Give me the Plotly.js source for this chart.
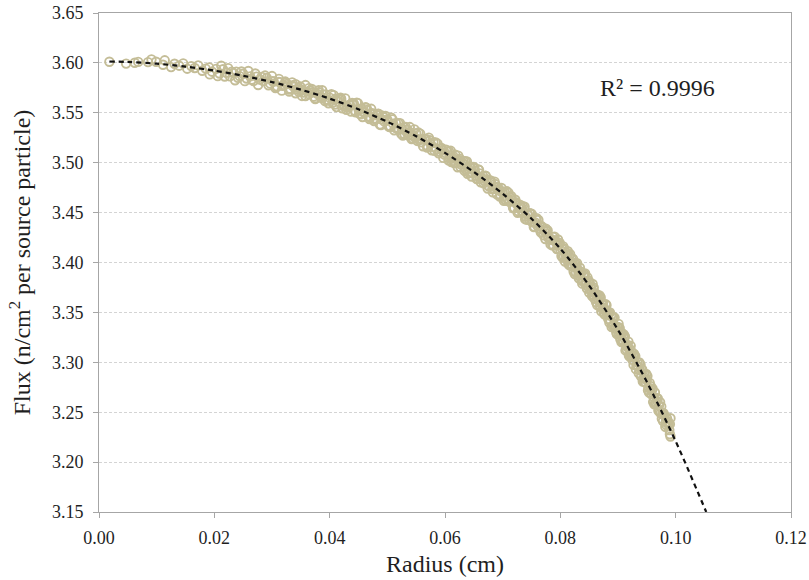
<!DOCTYPE html>
<html>
<head>
<meta charset="utf-8">
<script src="https://cdn.plot.ly/plotly-3.0.1.min.js"></script>
<style>
  html, body { margin: 0; padding: 0; background: #ffffff; }
  #chart { width: 809px; height: 580px; }
</style>
</head>
<body>
<div id="chart"></div>
<script>
// Tally results: flux per source particle against radial position
const radius = [
  0.0018, 0.0047, 0.0062, 0.0068, 0.0085, 0.0091, 0.0099, 0.0111, 0.0114, 0.0125,
  0.0131, 0.0139, 0.0146, 0.0153, 0.0160, 0.0166, 0.0172, 0.0179, 0.0185, 0.0191,
  0.0192, 0.0196,
  0.0203, 0.0209, 0.0215, 0.0221, 0.0227, 0.0233, 0.0238, 0.0244, 0.0250, 0.0256,
  0.0262, 0.0268, 0.0273, 0.0279, 0.0285, 0.0291, 0.0297, 0.0303, 0.0309, 0.0314,
  0.0320, 0.0326, 0.0332, 0.0338, 0.0343, 0.0349, 0.0355, 0.0361, 0.0366, 0.0372,
  0.0378, 0.0384, 0.0389, 0.0395, 0.0400,
  0.0405, 0.0410, 0.0415, 0.0420, 0.0425, 0.0430, 0.0435, 0.0440, 0.0445, 0.0450,
  0.0455, 0.0460, 0.0465, 0.0470, 0.0475, 0.0480, 0.0485, 0.0490, 0.0495, 0.0500,
  0.0505, 0.0510, 0.0515, 0.0520, 0.0525, 0.0530, 0.0535, 0.0540, 0.0545, 0.0550,
  0.0555, 0.0560, 0.0565, 0.0570, 0.0575, 0.0580, 0.0585, 0.0590, 0.0595, 0.0600,
  0.0604, 0.0608, 0.0612, 0.0616, 0.0620, 0.0624, 0.0628, 0.0632, 0.0636, 0.0640,
  0.0644, 0.0648, 0.0652, 0.0656, 0.0660, 0.0664, 0.0668, 0.0672, 0.0676, 0.0680,
  0.0684, 0.0688, 0.0692, 0.0696, 0.0700, 0.0704, 0.0708, 0.0712, 0.0716, 0.0720,
  0.0724, 0.0728, 0.0732, 0.0736, 0.0740, 0.0744, 0.0748, 0.0752, 0.0756, 0.0760,
  0.0764, 0.0768, 0.0772, 0.0776, 0.0780, 0.0784, 0.0788, 0.0792, 0.0796, 0.0796,
  0.0800,
  0.0803, 0.0806, 0.0809, 0.0812, 0.0815, 0.0818, 0.0821, 0.0824, 0.0827, 0.0830,
  0.0833, 0.0836, 0.0839, 0.0842, 0.0845, 0.0848, 0.0851, 0.0854, 0.0857, 0.0860,
  0.0863, 0.0866, 0.0869, 0.0872, 0.0875, 0.0878, 0.0881, 0.0884, 0.0887, 0.0890,
  0.0893, 0.0896, 0.0899, 0.0902, 0.0905, 0.0908, 0.0911, 0.0914, 0.0917, 0.0920,
  0.0923, 0.0926, 0.0929, 0.0932, 0.0935, 0.0938, 0.0941, 0.0944, 0.0947, 0.0950,
  0.0953, 0.0956, 0.0959, 0.0962, 0.0965, 0.0968, 0.0971, 0.0974, 0.0977, 0.0980,
  0.0983, 0.0986, 0.0989, 0.0990, 0.0991,
  // second pass of tallies
  0.0206, 0.0212, 0.0218, 0.0224, 0.0230, 0.0236, 0.0241, 0.0247, 0.0253, 0.0259,
  0.0265, 0.0271, 0.0276, 0.0282, 0.0288, 0.0294, 0.0300, 0.0306, 0.0312, 0.0317,
  0.0323, 0.0329, 0.0335, 0.0341, 0.0346, 0.0352, 0.0358, 0.0364, 0.0369, 0.0375,
  0.0381, 0.0387, 0.0392, 0.0398, 0.0403,
  0.0407, 0.0412, 0.0417, 0.0422, 0.0427, 0.0432, 0.0437, 0.0442, 0.0447, 0.0452,
  0.0457, 0.0462, 0.0467, 0.0472, 0.0477, 0.0482, 0.0487, 0.0492, 0.0497, 0.0502,
  0.0507, 0.0512, 0.0517, 0.0522, 0.0527, 0.0532, 0.0537, 0.0542, 0.0547, 0.0552,
  0.0557, 0.0562, 0.0567, 0.0572, 0.0577, 0.0582, 0.0587, 0.0592, 0.0597, 0.0602,
  0.0606, 0.0610, 0.0614, 0.0618, 0.0622, 0.0626, 0.0630, 0.0634, 0.0638, 0.0642,
  0.0646, 0.0650, 0.0654, 0.0658, 0.0662, 0.0666, 0.0670, 0.0674, 0.0678, 0.0682,
  0.0686, 0.0690, 0.0694, 0.0698, 0.0702, 0.0706, 0.0710, 0.0714, 0.0718, 0.0722,
  0.0726, 0.0730, 0.0734, 0.0738, 0.0742, 0.0746, 0.0750, 0.0754, 0.0758, 0.0762,
  0.0766, 0.0770, 0.0774, 0.0778, 0.0782, 0.0786, 0.0790, 0.0794, 0.0798, 0.0802,
  0.0805, 0.0808, 0.0811, 0.0814, 0.0817, 0.0820, 0.0823, 0.0826, 0.0829, 0.0832,
  0.0835, 0.0838, 0.0841, 0.0844, 0.0847, 0.0850, 0.0853, 0.0856, 0.0859, 0.0862,
  0.0865, 0.0868, 0.0871, 0.0874, 0.0877, 0.0880, 0.0883, 0.0886, 0.0889, 0.0892,
  0.0895, 0.0898, 0.0901, 0.0904, 0.0907, 0.0910, 0.0913, 0.0916, 0.0919, 0.0922,
  0.0925, 0.0928, 0.0931, 0.0934, 0.0937, 0.0940, 0.0943, 0.0946, 0.0949, 0.0952,
  0.0955, 0.0958, 0.0961, 0.0964, 0.0967, 0.0970, 0.0973, 0.0976, 0.0979, 0.0982,
  0.0985, 0.0988, 0.0991,
  // third pass of tallies
  0.0301, 0.0307, 0.0312, 0.0318, 0.0324, 0.0330, 0.0335, 0.0341, 0.0347, 0.0352,
  0.0358, 0.0364, 0.0370, 0.0375, 0.0381, 0.0387, 0.0393, 0.0398,
  0.0409, 0.0414, 0.0419, 0.0424, 0.0429, 0.0434, 0.0439, 0.0444, 0.0449, 0.0454,
  0.0459, 0.0464, 0.0469, 0.0474, 0.0479, 0.0484, 0.0489, 0.0494, 0.0499, 0.0504,
  0.0509, 0.0514, 0.0519, 0.0524, 0.0529, 0.0534, 0.0539, 0.0544, 0.0549, 0.0554,
  0.0559, 0.0564, 0.0569, 0.0574, 0.0579, 0.0584, 0.0589, 0.0594, 0.0599,
  0.0607, 0.0611, 0.0615, 0.0619, 0.0623, 0.0627, 0.0631, 0.0635, 0.0639, 0.0643,
  0.0647, 0.0651, 0.0655, 0.0659, 0.0663, 0.0667, 0.0671, 0.0675, 0.0679, 0.0683,
  0.0687, 0.0691, 0.0695, 0.0699, 0.0703, 0.0707, 0.0711, 0.0715, 0.0719, 0.0723,
  0.0727, 0.0731, 0.0735, 0.0739, 0.0743, 0.0747, 0.0751, 0.0755, 0.0759, 0.0763,
  0.0767, 0.0771, 0.0775, 0.0779, 0.0783, 0.0787, 0.0791, 0.0795, 0.0799,
  0.0804, 0.0807, 0.0810, 0.0813, 0.0816, 0.0819, 0.0822, 0.0825, 0.0828, 0.0831,
  0.0834, 0.0837, 0.0840, 0.0843, 0.0846, 0.0849, 0.0852, 0.0855, 0.0858, 0.0861,
  0.0864, 0.0867, 0.0870, 0.0873, 0.0876, 0.0879, 0.0882, 0.0885, 0.0888, 0.0891,
  0.0894, 0.0897, 0.0900, 0.0903, 0.0906, 0.0909, 0.0912, 0.0915, 0.0918, 0.0921,
  0.0924, 0.0927, 0.0930, 0.0933, 0.0936, 0.0939, 0.0942, 0.0945, 0.0948, 0.0951,
  0.0954, 0.0957, 0.0960, 0.0963, 0.0966, 0.0969, 0.0972, 0.0975, 0.0978, 0.0981,
  0.0984, 0.0987, 0.0990
];

const flux = [
  3.6012, 3.5993, 3.6001, 3.6010, 3.6008, 3.6035, 3.6012, 3.5982, 3.6026, 3.5958,
  3.5991, 3.5972, 3.5995, 3.5942, 3.5968, 3.5949, 3.5975, 3.5921, 3.5943, 3.5955,
  3.5885, 3.5912,
  3.5940, 3.5894, 3.5937, 3.5901, 3.5865, 3.5899, 3.5913, 3.5867, 3.5891, 3.5843,
  3.5865, 3.5818, 3.5862, 3.5834, 3.5817, 3.5849, 3.5792, 3.5813, 3.5764, 3.5807,
  3.5778, 3.5788, 3.5739, 3.5760, 3.5733, 3.5764, 3.5703, 3.5712, 3.5723, 3.5662,
  3.5692, 3.5661, 3.5682, 3.5631, 3.5652,
  3.5601, 3.5641, 3.5610, 3.5639, 3.5579, 3.5558, 3.5577, 3.5586, 3.5506, 3.5535,
  3.5543, 3.5500, 3.5528, 3.5455, 3.5483, 3.5440, 3.5488, 3.5435, 3.5413, 3.5430,
  3.5366, 3.5391, 3.5397, 3.5332, 3.5338, 3.5283, 3.5329, 3.5304, 3.5270, 3.5295,
  3.5228, 3.5232, 3.5235, 3.5168, 3.5191, 3.5205, 3.5138, 3.5111, 3.5125, 3.5098,
  3.5113, 3.5047, 3.5052, 3.4997, 3.5032, 3.5026, 3.4981, 3.5016, 3.4930, 3.4945,
  3.4950, 3.4895, 3.4908, 3.4841, 3.4893, 3.4846, 3.4819, 3.4831, 3.4764, 3.4816,
  3.4739, 3.4751, 3.4724, 3.4676, 3.4709, 3.4699, 3.4639, 3.4609, 3.4619, 3.4549,
  3.4589, 3.4549, 3.4559, 3.4499, 3.4459, 3.4479, 3.4489, 3.4407, 3.4403, 3.4369,
  3.4375, 3.4301, 3.4317, 3.4313, 3.4239, 3.4235, 3.4171, 3.4207, 3.4173, 3.4230,
  3.4129,
  3.4137, 3.4065, 3.4082, 3.4050, 3.4068, 3.3986, 3.3974, 3.3991, 3.3899, 3.3927,
  3.3895, 3.3893, 3.3820, 3.3858, 3.3796, 3.3764, 3.3800, 3.3733, 3.3677, 3.3690,
  3.3673, 3.3617, 3.3560, 3.3603, 3.3547, 3.3530, 3.3473, 3.3487, 3.3410, 3.3453,
  3.3377, 3.3360, 3.3353, 3.3283, 3.3282, 3.3201, 3.3240, 3.3168, 3.3147, 3.3136,
  3.3055, 3.3064, 3.3062, 3.2971, 3.2960, 3.2919, 3.2928, 3.2836, 3.2845, 3.2824,
  3.2748, 3.2733, 3.2727, 3.2651, 3.2586, 3.2610, 3.2565, 3.2489, 3.2483, 3.2468,
  3.2402, 3.2406, 3.2321, 3.2380, 3.2440,
  // second pass of tallies
  3.5867, 3.5971, 3.5864, 3.5948, 3.5912, 3.5826, 3.5850, 3.5914, 3.5817, 3.5919,
  3.5831, 3.5894, 3.5778, 3.5860, 3.5873, 3.5775, 3.5868, 3.5748, 3.5810, 3.5722,
  3.5813, 3.5734, 3.5805, 3.5696, 3.5748, 3.5669, 3.5778, 3.5687, 3.5738, 3.5637,
  3.5706, 3.5726, 3.5617, 3.5626, 3.5686,
  3.5677, 3.5557, 3.5636, 3.5545, 3.5645, 3.5554, 3.5513, 3.5592, 3.5602, 3.5490,
  3.5458, 3.5555, 3.5463, 3.5540, 3.5418, 3.5475, 3.5383, 3.5470, 3.5468, 3.5364,
  3.5450, 3.5325, 3.5341, 3.5396, 3.5272, 3.5357, 3.5273, 3.5238, 3.5334, 3.5218,
  3.5291, 3.5165, 3.5238, 3.5251, 3.5124, 3.5118, 3.5191, 3.5144, 3.5048, 3.5130,
  3.5025, 3.5119, 3.5014, 3.5079, 3.4954, 3.5038, 3.5003, 3.4918, 3.5012, 3.4897,
  3.4862, 3.4957, 3.4869, 3.4932, 3.4804, 3.4867, 3.4870, 3.4742, 3.4825, 3.4737,
  3.4810, 3.4682, 3.4735, 3.4747, 3.4619, 3.4619, 3.4699, 3.4649, 3.4549, 3.4629,
  3.4499, 3.4579, 3.4499, 3.4559, 3.4429, 3.4429, 3.4489, 3.4355, 3.4431, 3.4427,
  3.4303, 3.4349, 3.4235, 3.4321, 3.4227, 3.4173, 3.4259, 3.4135, 3.4181, 3.4065,
  3.4162, 3.4010, 3.4097, 3.3985, 3.4083, 3.3961, 3.3909, 3.3996, 3.3994, 3.3842,
  3.3910, 3.3788, 3.3885, 3.3773, 3.3851, 3.3699, 3.3762, 3.3785, 3.3639, 3.3602,
  3.3675, 3.3669, 3.3512, 3.3585, 3.3479, 3.3572, 3.3435, 3.3499, 3.3352, 3.3455,
  3.3339, 3.3282, 3.3385, 3.3232, 3.3291, 3.3280, 3.3119, 3.3177, 3.3066, 3.3165,
  3.3024, 3.3083, 3.2931, 3.3000, 3.2999, 3.2858, 3.2807, 3.2885, 3.2884, 3.2720,
  3.2794, 3.2679, 3.2603, 3.2697, 3.2642, 3.2516, 3.2601, 3.2435, 3.2489, 3.2354,
  3.2438, 3.2372, 3.2257,
  // third pass of tallies
  3.5816, 3.5757, 3.5840, 3.5771, 3.5802, 3.5712, 3.5775, 3.5786, 3.5707, 3.5728,
  3.5668, 3.5747, 3.5706, 3.5647, 3.5726, 3.5646, 3.5685, 3.5596,
  3.5582, 3.5642, 3.5651, 3.5570, 3.5530, 3.5579, 3.5598, 3.5517, 3.5597, 3.5485,
  3.5513, 3.5550, 3.5438, 3.5495, 3.5433, 3.5490, 3.5378, 3.5455, 3.5423, 3.5358,
  3.5434, 3.5349, 3.5395, 3.5290, 3.5356, 3.5301, 3.5357, 3.5242, 3.5248, 3.5302,
  3.5205, 3.5239, 3.5152, 3.5225, 3.5158, 3.5202, 3.5095, 3.5148, 3.5082,
  3.5112, 3.5006, 3.5061, 3.4996, 3.5071, 3.4955, 3.4990, 3.5015, 3.4889, 3.4964,
  3.4899, 3.4944, 3.4835, 3.4928, 3.4840, 3.4793, 3.4866, 3.4768, 3.4801, 3.4703,
  3.4786, 3.4758, 3.4661, 3.4703, 3.4634, 3.4714, 3.4614, 3.4664, 3.4544, 3.4604,
  3.4514, 3.4554, 3.4564, 3.4434, 3.4484, 3.4494, 3.4404, 3.4359, 3.4445, 3.4341,
  3.4367, 3.4273, 3.4339, 3.4255, 3.4181, 3.4257, 3.4213, 3.4139, 3.4195,
  3.4050, 3.4138, 3.4035, 3.4113, 3.3971, 3.4039, 3.4037, 3.3884, 3.3952, 3.3870,
  3.3948, 3.3816, 3.3873, 3.3891, 3.3739, 3.3817, 3.3721, 3.3664, 3.3748, 3.3691,
  3.3574, 3.3658, 3.3651, 3.3534, 3.3488, 3.3581, 3.3504, 3.3398, 3.3471, 3.3364,
  3.3448, 3.3301, 3.3354, 3.3343, 3.3202, 3.3211, 3.3260, 3.3128, 3.3207, 3.3056,
  3.3105, 3.2974, 3.3062, 3.2961, 3.2890, 3.2979, 3.2928, 3.2806, 3.2795, 3.2862,
  3.2696, 3.2761, 3.2735, 3.2579, 3.2594, 3.2638, 3.2503, 3.2557, 3.2411, 3.2466,
  3.2370, 3.2404, 3.2279
];

// Fitted trend curve (extended past the last tally point)
const trendRadius = [
  0.0018, 0.005, 0.010, 0.015, 0.020, 0.025, 0.030, 0.035, 0.040, 0.045, 0.050,
  0.055, 0.060, 0.065, 0.070, 0.075, 0.080, 0.085, 0.090, 0.095, 0.100, 0.1053
];
const trendFlux = [
  3.6014, 3.6009, 3.5992, 3.5963, 3.5923, 3.5871, 3.5808, 3.5732, 3.5642, 3.5535, 3.5410,
  3.5265, 3.5098, 3.4907, 3.4689, 3.4439, 3.4139, 3.3769, 3.3324, 3.2804, 3.2209, 3.1500
];

const rSquaredLabel = 'R² = 0.9996';
const xTickVals = [0, 0.02, 0.04, 0.06, 0.08, 0.10, 0.12];
const yTickVals = [3.15, 3.20, 3.25, 3.30, 3.35, 3.40, 3.45, 3.50, 3.55, 3.60, 3.65];

const serif = '"Liberation Serif", "Times New Roman", Times, serif';
const textColor = '#1f1f1f';
const axisGray = '#a6a6a6';

const traces = [
  {
    // hollow circles: overlapping rings build up into a solid band
    x: radius,
    y: flux,
    type: 'scatter',
    mode: 'markers',
    marker: {
      symbol: 'circle-open',
      size: 8.5,
      color: '#c4bd97',
      line: { color: '#c4bd97', width: 1.9 }
    },
    hoverinfo: 'x+y',
    showlegend: false
  },
  {
    x: trendRadius,
    y: trendFlux,
    type: 'scatter',
    mode: 'lines',
    line: { color: '#111111', width: 2.2, dash: '5px,4px', shape: 'spline', smoothing: 0.8 },
    hoverinfo: 'skip',
    showlegend: false
  }
];

const layout = {
  width: 809,
  height: 580,
  margin: { l: 99, r: 18, t: 13, b: 68 },
  paper_bgcolor: '#ffffff',
  plot_bgcolor: '#ffffff',
  font: { family: serif, color: textColor, size: 18 },
  xaxis: {
    range: [0, 0.12],
    tickvals: xTickVals,
    tickformat: '.2f',
    showgrid: false,
    zeroline: false,
    showline: true,
    linecolor: axisGray,
    linewidth: 1,
    mirror: true,
    ticks: 'outside',
    ticklen: 5,
    tickcolor: axisGray,
    ticklabelstandoff: 4,
    tickfont: { family: serif, size: 18, color: textColor },
    title: { text: 'Radius (cm)', font: { family: serif, size: 24, color: textColor }, standoff: 8 }
  },
  yaxis: {
    range: [3.15, 3.65],
    tickvals: yTickVals,
    tickformat: '.2f',
    showgrid: true,
    gridcolor: '#d4d4d4',
    griddash: '3px,2px',
    gridwidth: 1,
    zeroline: false,
    showline: true,
    linecolor: axisGray,
    linewidth: 1,
    mirror: true,
    ticks: 'outside',
    ticklen: 5,
    tickcolor: axisGray,
    ticklabelstandoff: 6,
    tickfont: { family: serif, size: 18, color: textColor },
    title: {
      text: 'Flux (n/cm<sup>2</sup> per source particle)',
      font: { family: serif, size: 24, color: textColor },
      standoff: 14
    }
  },
  annotations: [
    {
      x: 0.0968,
      y: 3.575,
      xref: 'x',
      yref: 'y',
      text: rSquaredLabel,
      showarrow: false,
      font: { family: serif, size: 24, color: textColor }
    }
  ],
  showlegend: false
};

Plotly.newPlot('chart', traces, layout, { displayModeBar: false, staticPlot: true });
</script>
</body>
</html>
